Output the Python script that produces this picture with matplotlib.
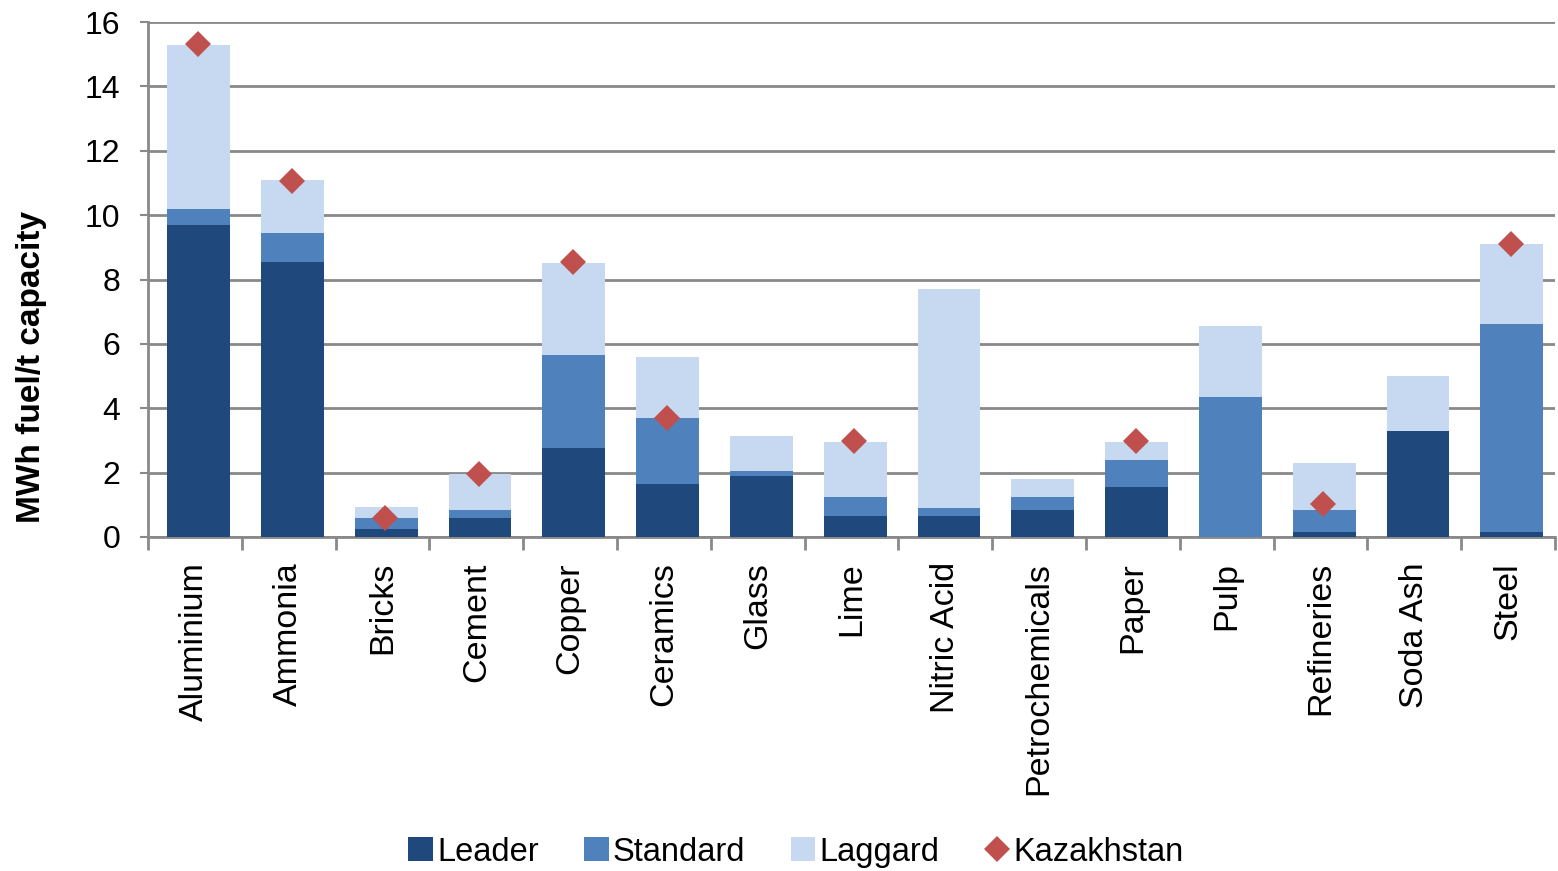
import matplotlib
matplotlib.use("Agg")
import matplotlib.pyplot as plt
import numpy as np
from matplotlib.patches import Patch
from matplotlib.lines import Line2D

plt.rcParams['font.family'] = ['Liberation Sans', 'DejaVu Sans']

categories = ["Aluminium", "Ammonia", "Bricks", "Cement", "Copper", "Ceramics",
              "Glass", "Lime", "Nitric Acid", "Petrochemicals", "Paper", "Pulp",
              "Refineries", "Soda Ash", "Steel"]

# Stacked segment heights (MWh fuel per t capacity)
leader = [9.70, 8.55, 0.25, 0.59, 2.78, 1.66, 1.90, 0.66, 0.66, 0.83, 1.56, 0.00, 0.17, 3.29, 0.17]
standard = [0.48, 0.89, 0.34, 0.24, 2.87, 2.03, 0.15, 0.58, 0.25, 0.40, 0.82, 4.34, 0.66, 0.00, 6.46]
laggard = [5.12, 1.64, 0.33, 1.14, 2.87, 1.89, 1.08, 1.72, 6.80, 0.58, 0.58, 2.22, 1.47, 1.71, 2.47]

# Kazakhstan values (None where not reported)
kazakhstan = [15.31, 11.05, 0.58, 1.95, 8.55, 3.70, None, 2.98, None, None, 2.98, None, 1.04, None, 9.11]

c_leader = "#1F497D"
c_standard = "#4F81BD"
c_laggard = "#C6D9F1"
c_kz = "#C0504D"
grid_c = "#898989"

fig = plt.figure(figsize=(15.58, 8.71), dpi=100)
ax = fig.add_axes([148 / 1558, 1 - 537 / 871, (1555 - 148) / 1558, (537 - 22) / 871])

x = np.arange(len(categories))
xb = x + 0.04
lead = np.array(leader)
std = np.array(standard)
lag = np.array(laggard)
w = 0.67
ax.bar(xb, lead, w, color=c_leader, zorder=3)
ax.bar(xb, std, w, bottom=lead, color=c_standard, zorder=3)
ax.bar(xb, lag, w, bottom=lead + std, color=c_laggard, zorder=3)

kx = [i + 0.03 for i, v in enumerate(kazakhstan) if v is not None]
ky = [v for v in kazakhstan if v is not None]
ax.plot(kx, ky, linestyle="none", marker="D", markersize=13, color=c_kz,
        markeredgewidth=0, zorder=4)

ax.set_xlim(-0.5, len(categories) - 0.5)
ax.set_ylim(0, 16)
ax.set_yticks(np.arange(0, 17, 2))
ax.yaxis.grid(True, color=grid_c, linewidth=2, zorder=0)
ax.set_axisbelow(True)

for s in ["top", "right"]:
    ax.spines[s].set_visible(False)
for s in ["left", "bottom"]:
    ax.spines[s].set_color(grid_c)
    ax.spines[s].set_linewidth(2)

ax.tick_params(axis="y", direction="out", length=6, width=1.5, color=grid_c,
               labelsize=23, pad=14)
ax.set_xticks(x)
ax.set_xticklabels(categories, rotation=90, fontsize=24.5, va="top", ha="center")
ax.tick_params(axis="x", which="major", length=0, pad=18)
ax.set_xticks(np.arange(-0.5, len(categories), 1.0), minor=True)
ax.tick_params(axis="x", which="minor", direction="out", length=9, width=2, color=grid_c)

fig.text(32 / 1558, 1 - 367 / 871, "MWh fuel/t capacity", rotation=90,
         fontsize=24, fontweight="bold", ha="center", va="center")

handles = [
    Patch(facecolor=c_leader, label="Leader"),
    Patch(facecolor=c_standard, label="Standard"),
    Patch(facecolor=c_laggard, label="Laggard"),
    Line2D([], [], linestyle="none", marker="D", markersize=13, color=c_kz,
           markeredgewidth=0, label="Kazakhstan"),
]
fig.legend(handles=handles, loc="center", bbox_to_anchor=(796 / 1558, 1 - 852 / 871),
           ncol=4, frameon=False, fontsize=23.5, handlelength=0.75, handleheight=0.75,
           handletextpad=0.12, columnspacing=1.4)

fig.savefig("out.png", dpi=100)
